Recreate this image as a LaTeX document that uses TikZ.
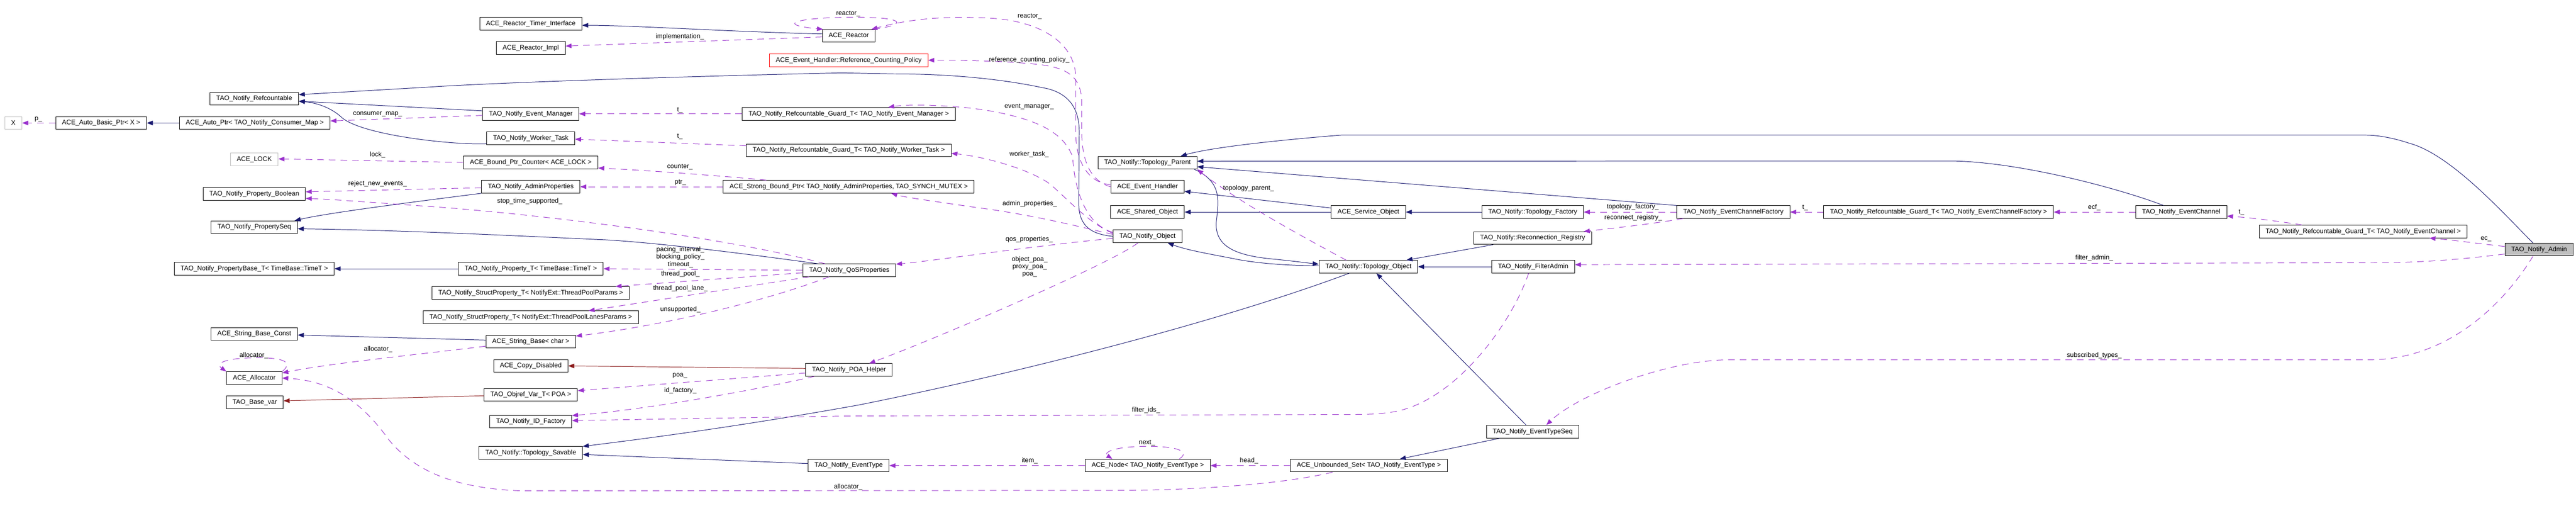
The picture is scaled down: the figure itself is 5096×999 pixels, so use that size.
\documentclass[tikz,border=0pt]{standalone}
\usepackage{fontspec}
\setmainfont{Liberation Sans}
\usepackage{xcolor}
\usetikzlibrary{arrows.meta}
\definecolor{inhblue}{HTML}{191970}
\definecolor{privred}{HTML}{8B1A1A}
\definecolor{usepurple}{HTML}{9A32CD}

\begin{document}
\begin{tikzpicture}[x=1pt,y=-1pt,
    font=\fontsize{13}{14.5}\selectfont,
    cls/.style={draw=black,line width=1pt,minimum height=25pt,inner xsep=12.5pt,inner ysep=0pt},
    undoc/.style={cls,draw=gray!50},
    redcls/.style={cls,draw=red},
    hereclass/.style={cls,fill=gray!50},
    pubinh/.style={draw=inhblue,line width=1pt,-{Triangle[length=12pt,width=9pt]}},
    privinh/.style={pubinh,draw=privred},
    uses/.style={draw=usepurple,line width=1pt,dash pattern=on 13pt off 10pt,-{Triangle[length=12pt,width=9pt]}},
    lbl/.style={inner sep=0pt}]
    \useasboundingbox (0,0) rectangle (5096,999);

    % Left column
    \node[undoc] (X) at (26.5,243) {X};
    \node[cls] (autobasic) at (200,243) {ACE\_Auto\_Basic\_Ptr< X >};
    \node[cls] (autoptr) at (504,243) {ACE\_Auto\_Ptr< TAO\_Notify\_Consumer\_Map >};
    \node[cls] (refcnt) at (503,195) {TAO\_Notify\_Refcountable};
    \node[undoc] (lock) at (503,315) {ACE\_LOCK};
    \node[cls] (propbool) at (503,383) {TAO\_Notify\_Property\_Boolean};
    \node[cls] (propseq) at (503,449) {TAO\_Notify\_PropertySeq};
    \node[cls] (propbase) at (503,531) {TAO\_Notify\_PropertyBase\_T< TimeBase::TimeT >};
    \node[cls] (strconst) at (503,660) {ACE\_String\_Base\_Const};
    \node[cls] (alloc) at (503,747) {ACE\_Allocator};
    \node[cls] (basevar) at (504,795) {TAO\_Base\_var};

    % Second column
    \node[cls] (timerif) at (1050,47) {ACE\_Reactor\_Timer\_Interface};
    \node[cls] (reactimpl) at (1050,95) {ACE\_Reactor\_Impl};
    \node[cls] (evmgr) at (1050,225) {TAO\_Notify\_Event\_Manager};
    \node[cls] (worker) at (1050,273) {TAO\_Notify\_Worker\_Task};
    \node[cls] (counter) at (1050,321) {ACE\_Bound\_Ptr\_Counter< ACE\_LOCK >};
    \node[cls] (adminprops) at (1050,369) {TAO\_Notify\_AdminProperties};
    \node[cls] (propt) at (1050,531) {TAO\_Notify\_Property\_T< TimeBase::TimeT >};
    \node[cls] (tpparams) at (1050,579) {TAO\_Notify\_StructProperty\_T< NotifyExt::ThreadPoolParams >};
    \node[cls] (tplanes) at (1050,627) {TAO\_Notify\_StructProperty\_T< NotifyExt::ThreadPoolLanesParams >};
    \node[cls] (strbase) at (1050,675) {ACE\_String\_Base< char >};
    \node[cls] (copydis) at (1050,723) {ACE\_Copy\_Disabled};
    \node[cls] (objref) at (1050,780) {TAO\_Objref\_Var\_T< POA >};
    \node[cls] (idfact) at (1050,833) {TAO\_Notify\_ID\_Factory};
    \node[cls] (savable) at (1050,895) {TAO\_Notify::Topology\_Savable};

    % Third column
    \node[cls] (reactor) at (1679,71) {ACE\_Reactor};
    \node[redcls] (rcpolicy) at (1679,119) {ACE\_Event\_Handler::Reference\_Counting\_Policy};
    \node[cls] (guardem) at (1679,225) {TAO\_Notify\_Refcountable\_Guard\_T< TAO\_Notify\_Event\_Manager >};
    \node[cls] (guardwt) at (1679,297) {TAO\_Notify\_Refcountable\_Guard\_T< TAO\_Notify\_Worker\_Task >};
    \node[cls] (strongptr) at (1679,369) {ACE\_Strong\_Bound\_Ptr< TAO\_Notify\_AdminProperties, TAO\_SYNCH\_MUTEX >};
    \node[cls] (qos) at (1680,534) {TAO\_Notify\_QoSProperties};
    \node[cls] (poahelper) at (1679.5,731) {TAO\_Notify\_POA\_Helper};
    \node[cls] (evtype) at (1679,920) {TAO\_Notify\_EventType};

    % Fourth column
    \node[cls] (topparent) at (2270,321.5) {TAO\_Notify::Topology\_Parent};
    \node[cls] (evhandler) at (2270,369) {ACE\_Event\_Handler};
    \node[cls] (shared) at (2270,419) {ACE\_Shared\_Object};
    \node[cls] (notifyobj) at (2270,467) {TAO\_Notify\_Object};
    \node[cls] (acenode) at (2270.6,920) {ACE\_Node< TAO\_Notify\_EventType >};

    % Right part
    \node[cls] (svcobj) at (2707,419) {ACE\_Service\_Object};
    \node[cls] (topobj) at (2707,527) {TAO\_Notify::Topology\_Object};
    \node[cls] (unbset) at (2708,920) {ACE\_Unbounded\_Set< TAO\_Notify\_EventType >};
    \node[cls] (topfact) at (3032,419) {TAO\_Notify::Topology\_Factory};
    \node[cls] (reconreg) at (3032,470.5) {TAO\_Notify::Reconnection\_Registry};
    \node[cls] (filteradmin) at (3033,527) {TAO\_Notify\_FilterAdmin};
    \node[cls] (evtypeseq) at (3032,853) {TAO\_Notify\_EventTypeSeq};
    \node[cls] (ecf) at (3429,419) {TAO\_Notify\_EventChannelFactory};
    \node[cls] (guardecf) at (3835,419) {TAO\_Notify\_Refcountable\_Guard\_T< TAO\_Notify\_EventChannelFactory >};
    \node[cls] (ec) at (4315,419) {TAO\_Notify\_EventChannel};
    \node[cls] (guardec) at (4675,457.5) {TAO\_Notify\_Refcountable\_Guard\_T< TAO\_Notify\_EventChannel >};
    \node[hereclass] (admin) at (5023,493) {TAO\_Notify\_Admin};

    % Inheritance
    \draw[pubinh] (autoptr) -- (autobasic);
    \draw[pubinh] ([yshift=6pt]evmgr.west) -- ([yshift=-5pt]refcnt.east);
    \draw[pubinh] ([yshift=-11pt]worker.west) .. controls (900,287) and (720,268) .. (677,233) .. controls (655,212) and (625,203) .. ([yshift=-5pt]refcnt.east);
    \draw[pubinh] (notifyobj.west) .. controls (2150,462) and (2134,440) .. (2134,400) -- (2135,260) .. controls (2135,205) and (2105,180) .. (2061,173) .. controls (2000,160) and (1900,146) .. (1768,146) -- (1665,144) .. controls (1300,152) and (950,165) .. (850,172) -- ([yshift=8pt]refcnt.east);
    \draw[pubinh] ([yshift=4pt]reactor.west) .. controls (1450,63) and (1250,50) .. ([yshift=-3pt]timerif.east);
    \draw[pubinh] (adminprops.south west) .. controls (850,395) and (650,420) .. ([xshift=-6pt]propseq.north east);
    \draw[pubinh] ([xshift=30pt]qos.north west) .. controls (1450,498) and (1300,480) .. (1200,474) .. controls (1000,465) and (800,455) .. ([yshift=-3pt]propseq.east);
    \draw[pubinh] (propt) -- (propbase);
    \draw[pubinh] ([yshift=3pt]strbase.west) -- ([yshift=-2pt]strconst.east);
    \draw[privinh] ([yshift=-2pt]objref.west) -- ([yshift=3pt]basevar.east);
    \draw[privinh] ([yshift=3pt]poahelper.west) -- (copydis.east);
    \draw[pubinh] ([xshift=-38pt]topobj.south) .. controls (2400,640) and (2000,740) .. (1700,800) .. controls (1450,845) and (1250,870) .. (savable.north east);
    \draw[pubinh] ([yshift=4pt]evtype.west) -- ([yshift=-3pt]savable.east);
    \draw[pubinh] ([xshift=-12pt]admin.north) .. controls (4960,430) and (4850,305) .. (4766,283) .. controls (4730,271) and (4700,267) .. (4680,267) -- (2653,267) .. controls (2550,275) and (2400,290) .. ([xshift=-33pt]topparent.north east);
    \draw[pubinh] ([xshift=-35pt]ec.north) .. controls (4200,375) and (4000,320) .. (3860,318) -- ([yshift=3pt]topparent.east);
    \draw[pubinh] (ecf.north west) -- ([yshift=-8pt]topparent.east);
    \draw[pubinh] ([yshift=8pt]svcobj.west) -- ([yshift=-9pt]evhandler.east);
    \draw[pubinh] (svcobj) -- (shared);
    \draw[pubinh] (topfact) -- (svcobj);
    \draw[pubinh] ([xshift=-78pt]reconreg.south) -- ([xshift=-23pt]topobj.north east);
    \draw[pubinh] (filteradmin) -- (topobj);
    \draw[pubinh] ([xshift=-13pt]evtypeseq.north) -- ([xshift=16pt]topobj.south);
    \draw[pubinh] ([xshift=-65pt]evtypeseq.south) -- ([xshift=61pt]unbset.north);
    \draw[pubinh] ([xshift=-6pt]topparent.south east) .. controls (2420,360) and (2410,400) .. (2406,440) .. controls (2404,485) and (2440,505) .. (2520,512) .. controls (2560,516) and (2590,520) .. ([yshift=5pt]topobj.west);
    \draw[pubinh] ([yshift=2pt]topobj.west) .. controls (2560,525) and (2500,522) .. (2450,513) .. controls (2400,503) and (2350,495) .. ([xshift=40pt]notifyobj.south);

    % Members
    \draw[uses] (autobasic) -- (X);
    \draw[uses] ([yshift=-3pt]evmgr.west) -- ([yshift=4pt]autoptr.east);
    \draw[uses] (counter.west) -- ([yshift=1pt]lock.east);
    \draw[uses] ([yshift=-2pt]adminprops.west) -- ([yshift=4pt]propbool.east);
    \draw[uses] ([xshift=-48pt]qos.north) .. controls (1400,460) and (1000,418) .. (850,408) .. controls (750,401) and (660,394) .. ([yshift=-9pt]propbool.east);
    \draw[uses] ([yshift=-2pt]reactor.west) -- ([yshift=4pt]reactimpl.east);
    \draw[uses] ([xshift=-4pt]reactor.north east) .. controls (1800,48) and (1790,33) .. (1680,34) .. controls (1580,35) and (1530,48) .. ([xshift=2pt]reactor.north west);
    \draw[uses] ([yshift=4pt]evhandler.west) .. controls (2160,362) and (2128,330) .. (2128,260) -- (2128,150) .. controls (2125,85) and (2060,42) .. (1960,36) .. controls (1860,30) and (1790,40) .. ([xshift=-8pt]reactor.north east);
    \draw[uses] (evhandler.west) .. controls (2165,360) and (2140,330) .. (2140,260) -- (2140,200) .. controls (2138,150) and (2110,135) .. (2060,128) .. controls (1990,120) and (1900,119) .. (rcpolicy.east);
    \draw[uses] ([yshift=8pt]notifyobj.west) .. controls (2150,445) and (2126,380) .. (2122,310) .. controls (2105,265) and (2060,238) .. (1963,220) .. controls (1900,208) and (1800,205) .. ([xshift=78pt]guardem.north);
    \draw[uses] (guardem) -- (evmgr);
    \draw[uses] ([yshift=9pt]guardwt.west) -- ([yshift=-2pt]worker.east);
    \draw[uses] ([yshift=6pt]notifyobj.west) .. controls (2150,440) and (2100,380) .. (2072,360) .. controls (2030,333) and (1950,310) .. ([yshift=-6pt]guardwt.east);
    \draw[uses] ([xshift=-163pt]strongptr.north) .. controls (1400,345) and (1250,335) .. ([yshift=-11pt]counter.east);
    \draw[uses] (strongptr) -- (adminprops);
    \draw[uses] ([yshift=4pt]notifyobj.west) .. controls (2150,452) and (2050,425) .. (1931,410) .. controls (1850,398) and (1790,390) .. ([xshift=84pt]strongptr.south);
    \draw[uses] ([yshift=-4pt]notifyobj.west) .. controls (2050,485) and (1850,515) .. ([yshift=12pt]qos.east);
    \draw[uses] (qos.west) -- (propt.east);
    \draw[uses] ([yshift=-5pt]qos.west) -- ([xshift=-28pt]tpparams.north east);
    \draw[uses] ([xshift=13pt]qos.south west) -- ([xshift=-99pt]tplanes.north east);
    \draw[uses] ([xshift=-40pt]qos.south) .. controls (1500,600) and (1300,645) .. ([yshift=11pt]strbase.east);
    \draw[uses] ([xshift=-19pt]notifyobj.south) .. controls (2200,520) and (1850,670) .. ([xshift=40pt]poahelper.north);
    \draw[uses] ([yshift=-9pt]strbase.west) .. controls (850,698) and (650,718) .. ([yshift=10pt]alloc.east);
    \draw[uses] (alloc.north east) .. controls (585,712) and (550,706) .. (500,707) .. controls (445,708) and (425,718) .. (alloc.north west);
    \draw[uses] ([yshift=-6pt]poahelper.west) -- ([yshift=8pt]objref.east);
    \draw[uses] ([xshift=-69pt]poahelper.south) .. controls (1450,780) and (1250,812) .. ([yshift=12pt]idfact.east);
    \draw[uses] ([xshift=-9pt]filteradmin.south) .. controls (2990,640) and (2880,790) .. (2761,813) .. controls (2730,819) and (2700,819) .. (2650,819) -- (1680,822) -- ([yshift=2pt]idfact.east);
    \draw[uses] (unbset) -- (acenode);
    \draw[uses] ([xshift=62pt]acenode.north) .. controls (2352,895) and (2340,882) .. (2270,882) .. controls (2200,882) and (2182,895) .. ([xshift=-70pt]acenode.north);
    \draw[uses] (acenode) -- (evtype);
    \draw[uses] ([xshift=-72pt]unbset.south) .. controls (2560,952) and (2400,969) .. (2200,969) -- (1036,970) .. controls (900,966) and (820,930) .. (770,870) .. controls (720,800) and (660,752) .. (alloc.east);
    \draw[uses] ([xshift=-44pt]topobj.north) .. controls (2600,480) and (2450,400) .. (topparent.south east);
    \draw[uses] (ecf) -- (topfact);
    \draw[uses] ([xshift=13pt]ecf.south west) .. controls (3250,445) and (3180,452) .. ([xshift=-16pt]reconreg.north east);
    \draw[uses] (guardecf) -- (ecf);
    \draw[uses] (ec) -- (guardecf);
    \draw[uses] ([xshift=-121pt]guardec.north) .. controls (4500,436) and (4450,430) .. ([yshift=-8pt]ec.east);
    \draw[uses] ([yshift=6pt]admin.west) .. controls (4900,481) and (4850,474) .. ([xshift=131pt]guardec.south);
    \draw[uses] ([yshift=-9pt]admin.west) .. controls (4880,511) and (4800,519) .. (4700,519) -- ([yshift=4pt]filteradmin.east);
    \draw[uses] ([xshift=-12pt]admin.south) .. controls (4960,590) and (4850,711) .. (4686,711) -- (3420,711) .. controls (3300,711) and (3120,780) .. ([xshift=27pt]evtypeseq.north);

    % Member labels
    \node[lbl] (lp) at (76,236) {p\_};
    \node[lbl] (lcmap) at (747,226) {consumer\_map\_};
    \node[lbl] (llock) at (747,306) {lock\_};
    \node[lbl] (lreject) at (747,363) {reject\_new\_events\_};
    \node[lbl] (lallocself) at (502,702) {allocator\_};
    \node[lbl] (lallocstr) at (748,690) {allocator\_};
    \node[lbl] (lreactself) at (1678,27) {reactor\_};
    \node[lbl] (limpl) at (1345,73) {implementation\_};
    \node[lbl] (ltem) at (1345,218) {t\_};
    \node[lbl] (ltwt) at (1345,270) {t\_};
    \node[lbl] (lcounter) at (1345,330) {counter\_};
    \node[lbl] (lptr) at (1346,360) {ptr\_};
    \node[lbl] (lstop) at (1048,398) {stop\_time\_supported\_};
    \node[lbl,align=center] (lpacing) at (1346,508) {pacing\_interval\_\\blocking\_policy\_\\timeout\_};
    \node[lbl] (ltpool) at (1346,541) {thread\_pool\_};
    \node[lbl] (ltlane) at (1346,570) {thread\_pool\_lane\_};
    \node[lbl] (lunsup) at (1346,612) {unsupported\_};
    \node[lbl] (lpoa) at (1345,742) {poa\_};
    \node[lbl] (lidf) at (1346,772) {id\_factory\_};
    \node[lbl] (lallocset) at (1678,962) {allocator\_};
    \node[lbl] (lreactor) at (2037,32) {reactor\_};
    \node[lbl] (lrcp) at (2036,118) {reference\_counting\_policy\_};
    \node[lbl] (levmgr) at (2036,211) {event\_manager\_};
    \node[lbl] (lwtask) at (2036,305) {worker\_task\_};
    \node[lbl] (ladmprop) at (2037,403) {admin\_properties\_};
    \node[lbl] (lqosprop) at (2036,473) {qos\_properties\_};
    \node[lbl,align=center] (lpoas) at (2037,527) {object\_poa\_\\proxy\_poa\_\\poa\_};
    \node[lbl] (lfids) at (2267,810) {filter\_ids\_};
    \node[lbl] (lnext) at (2269,875) {next\_};
    \node[lbl] (litem) at (2037,910) {item\_};
    \node[lbl] (lhead) at (2471,910) {head\_};
    \node[lbl] (ltopp) at (2470,372) {topology\_parent\_};
    \node[lbl] (ltopf) at (3230,409) {topology\_factory\_};
    \node[lbl] (lrecon) at (3231,430) {reconnect\_registry\_};
    \node[lbl] (ltecf) at (3571,410) {t\_};
    \node[lbl] (lecf) at (4143,410) {ecf\_};
    \node[lbl] (ltec) at (4434,420) {t\_};
    \node[lbl] (lec) at (4918,472) {ec\_};
    \node[lbl] (lfadm) at (4143,510) {filter\_admin\_};
    \node[lbl] (lsubs) at (4143,702) {subscribed\_types\_};
\end{tikzpicture}
\end{document}
